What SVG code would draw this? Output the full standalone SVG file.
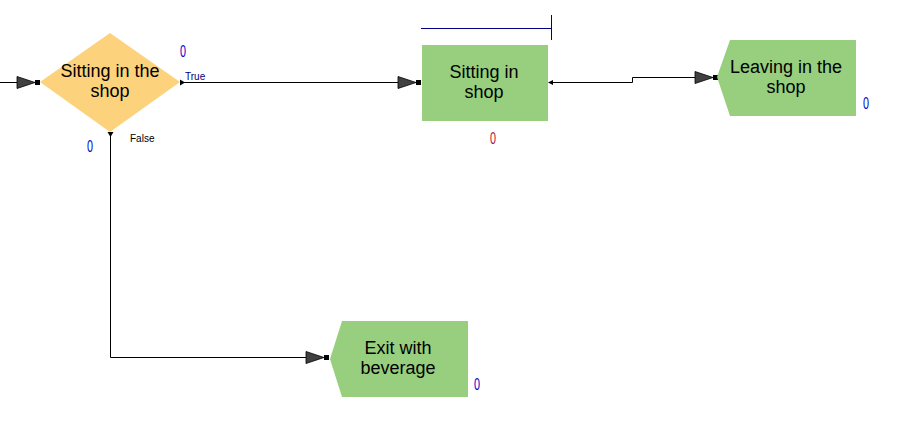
<svg xmlns="http://www.w3.org/2000/svg" xmlns:xlink="http://www.w3.org/1999/xlink" width="902" height="430" viewBox="0 0 902 430">
<style>
.lbl{font-family:"Liberation Sans",Arial,sans-serif;font-size:18px;fill:#000;text-anchor:middle}
.cnt{font-family:"Liberation Sans",Arial,sans-serif;font-size:17px;fill:#0000C8}
.br{font-family:"Liberation Sans",Arial,sans-serif;font-size:10px}
.ln{fill:none;stroke:#000;stroke-width:1}
.grn{fill:#98CF7E}
</style>
<defs>
<g id="arr"><polygon points="-23,-6 -5,0 -23,6" fill="#404040" stroke="#000" stroke-width="0.8"/><rect x="-5" y="-2.5" width="5" height="5" fill="#000"/></g>
</defs>
<g id="connectors">
<line class="ln" x1="0" y1="82.5" x2="18" y2="82.5"/>
<use xlink:href="#arr" x="40" y="82.5"/>
<polyline class="ln" points="181,82.5 399,82.5"/>
<polygon points="180,79.5 185,82.5 180,85.5" fill="#000"/>
<use xlink:href="#arr" x="421" y="82.5"/>
<polyline class="ln" points="549,82.5 632.5,82.5 632.5,77.5 696,77.5"/>
<polygon points="548,82.5 553,80 553,85" fill="#000"/>
<use xlink:href="#arr" x="718" y="77.5"/>
<polyline class="ln" points="110.5,133 110.5,357.5 307,357.5"/>
<polygon points="107.5,132 113.5,132 110.5,137" fill="#000"/>
<use xlink:href="#arr" x="329" y="357.5"/>
<text class="br" x="185" y="80" fill="#000080">True</text>
<text class="br" x="130" y="142" fill="#000" font-size="9">False</text>
</g>
<g id="decision">
<polygon points="40,82 110,33 180,82 110,132" fill="#FCD37C"/>
<text class="lbl" x="110" y="77">Sitting in the</text>
<text class="lbl" x="110" y="97">shop</text>
<text class="cnt" x="180" y="57" textLength="6" lengthAdjust="spacingAndGlyphs">0</text>
<text class="cnt" x="87" y="152" textLength="6" lengthAdjust="spacingAndGlyphs">0</text>
</g>
<g id="sitting">
<rect class="grn" x="422" y="45" width="126" height="76"/>
<text class="lbl" x="484" y="78">Sitting in</text>
<text class="lbl" x="484" y="98">shop</text>
<text class="cnt" x="490" y="144" style="fill:#B0103A" textLength="6" lengthAdjust="spacingAndGlyphs">0</text>
<polyline points="421,28.5 551.5,28.5" fill="none" stroke="#000080" stroke-width="1"/>
<line x1="551.5" y1="15" x2="551.5" y2="40" stroke="#000080" stroke-width="1"/>
</g>
<g id="leaving">
<polygon class="grn" points="730,40 856,40 856,116 730,116 717,77"/>
<text class="lbl" x="786" y="73">Leaving in the</text>
<text class="lbl" x="786" y="93">shop</text>
<text class="cnt" x="863" y="109" textLength="6" lengthAdjust="spacingAndGlyphs">0</text>
</g>
<g id="exit">
<polygon class="grn" points="342,321 468,321 468,397 342,397 330,359"/>
<text class="lbl" x="398" y="354">Exit with</text>
<text class="lbl" x="398" y="374">beverage</text>
<text class="cnt" x="474" y="390" textLength="6" lengthAdjust="spacingAndGlyphs">0</text>
</g>
</svg>
